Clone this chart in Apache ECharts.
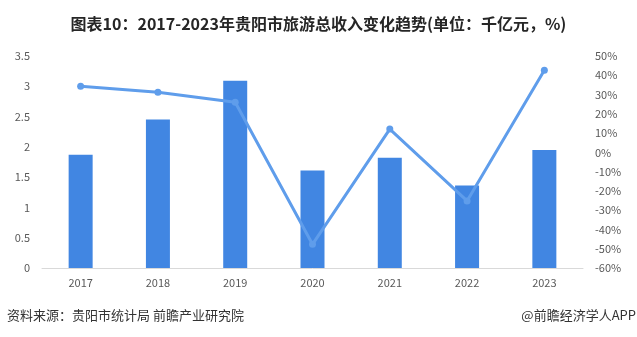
<!DOCTYPE html>
<html><head><meta charset="utf-8">
<script src="https://cdn.jsdelivr.net/npm/echarts@6/dist/echarts.min.js"></script>
<style>html,body{margin:0;padding:0;background:#fff}#c{width:637px;height:337px}</style>
</head><body><div id="c"></div>
<script>
const categories = ['2017','2018','2019','2020','2021','2022','2023'];
const revenue = [1.87, 2.45, 3.09, 1.61, 1.82, 1.36, 1.95];
const growth = [34.3, 31.2, 26.0, -47.7, 12.1, -25.2, 42.6];
const titleText = '图表10：2017-2023年贵阳市旅游总收入变化趋势(单位：千亿元，%)';
const sourceText = '资料来源：贵阳市统计局 前瞻产业研究院';
const brandText = '@前瞻经济学人APP';

const chart = echarts.init(document.getElementById('c'));
const font = '"Noto Sans CJK SC", "Noto Sans", sans-serif';
chart.setOption({
  animation: false,
  textStyle: {fontFamily: font},
  title: {text: titleText, left: 'center', top: 11,
    textStyle: {fontSize: 16, fontWeight: 'bold', color: '#262626', fontFamily: font}},
  grid: {left: 42, right: 54, top: 56, bottom: 69},
  xAxis: {type: 'category', data: categories,
    axisLine: {lineStyle: {color: '#d9d9d9', width: 1}},
    axisTick: {show: false},
    axisLabel: {color: '#595959', fontSize: 11, margin: 9}},
  yAxis: [
    {type: 'value', min: 0, max: 3.5, interval: 0.5,
     splitLine: {show: false}, axisLine: {show: false}, axisTick: {show: false},
     axisLabel: {color: '#595959', fontSize: 11, margin: 12}},
    {type: 'value', min: -60, max: 50, interval: 10,
     splitLine: {show: false}, axisLine: {show: false}, axisTick: {show: false},
     axisLabel: {color: '#595959', fontSize: 11, margin: 12, formatter: '{value}%'}}
  ],
  series: [
    {type: 'bar', data: revenue, barWidth: 24, itemStyle: {color: '#4186E2'}},
    {type: 'line', yAxisIndex: 1, data: growth, symbol: 'circle', symbolSize: 7,
     lineStyle: {color: '#5F9DEB', width: 3}, itemStyle: {color: '#5F9DEB'}}
  ],
  graphic: [
    {type: 'text', left: 7, top: 309, style: {text: sourceText, fontSize: 13, fill: '#333', fontFamily: font}},
    {type: 'text', right: 1, top: 309, style: {text: brandText, fontSize: 13, fill: '#333', fontFamily: font}}
  ]
});
</script></body></html>
